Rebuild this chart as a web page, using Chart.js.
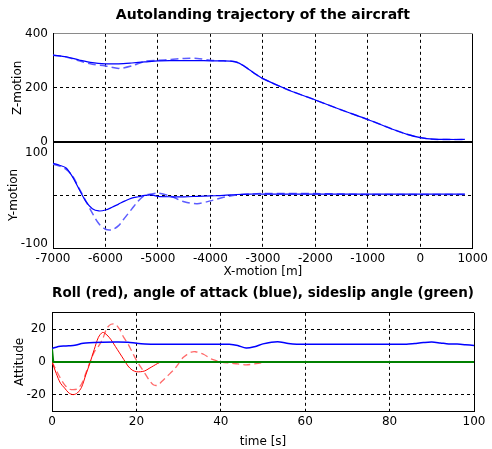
<!DOCTYPE html>
<html>
<head>
<meta charset="utf-8">
<script src="https://cdn.jsdelivr.net/npm/chart.js@4.4.0/dist/chart.umd.min.js"></script>
<style>
  body { margin: 0; background: #fff; }
  canvas { position: absolute; left: 0; }
  #traj { top: 0; }
  #att { top: 280px; }
</style>
</head>
<body>
<canvas id="traj" width="492" height="280"></canvas>
<canvas id="att" width="492" height="169"></canvas>
<script>
// trajectory, top plots
const xTicks = [-7000, -6000, -5000, -4000, -3000, -2000, -1000, 0, 1000];
const zTicks = [0, 200, 400];
const yTicks = [-100, 0, 100];

const xZ = [-7000, -6750, -6500, -6250, -6000, -5750, -5500, -5250, -5000, -4750, -4500, -4250, -4000,
  -3750, -3625, -3500, -3375, -3250, -3125, -3000, -2500, -2000, -1500, -1000, -500, -250, 0, 250, 500, 850];
const zSolid = [321, 315, 303, 293, 289, 289, 292, 296, 300, 301, 301, 301, 300,
  300, 299, 295, 283, 266, 249, 234, 191, 155, 118, 83, 45, 28, 16, 10, 9, 9];
const zDashed = [321, 314, 300, 287, 281, 272, 281, 298, 302, 305, 309, 309, 302,
  300, 299, 295, 283, 266, 249, 234, 191, 155, 118, 83, 45, 28, 16, 10, 9, 9];

const xY = [-7000, -6875, -6750, -6625, -6500, -6375, -6250, -6125, -6000, -5875, -5750, -5625, -5500,
  -5375, -5250, -5125, -5000, -4750, -4500, -4250, -4000, -3750, -3500, -3250, -3000, -2000, -1000, 0, 850];
const ySolid = [70, 66, 60, 40, 13, -13, -29, -34, -32, -26, -19, -12, -6,
  -3, 0, 1, -2, -3, -3, -2, -1, 0, 2, 3, 3, 3, 3, 3, 3];
const yDashed = [68, 64, 57, 42, 15, -12, -39, -62, -74, -75, -66, -48, -30,
  -12, 0, 3, 5, -2, -14, -18, -12, -4, 1, 3, 4, 4, 2, 2, 2];

// attitude, bottom plot
const tTicks = [0, 20, 40, 60, 80, 100];
const attTicks = [-20, 0, 20];

const tBlue = [0, 1, 2, 3, 4, 5, 6, 7, 8, 10, 12, 15, 18, 20, 22, 25, 30, 35, 40, 42, 44, 46, 48, 50,
  52, 54, 56, 58, 70, 80, 84, 86, 88, 90, 92, 94, 96, 98, 100];
const aoa = [8.2, 9, 9.5, 9.7, 9.9, 10, 10.5, 11.2, 11.5, 11.8, 12, 12.1, 12, 11.4, 11, 10.8, 10.8, 10.8, 10.8, 10.8, 10, 8.5, 9.3, 11,
  12, 12.2, 11.2, 10.8, 10.8, 10.8, 10.8, 11.3, 11.8, 12.1, 11.6, 11, 10.9, 10.5, 10];

const tRed = [0, 1, 2, 3, 4, 5, 6, 7, 8, 9, 10, 11, 12, 13, 14, 15, 16, 17, 18, 19, 20, 21, 22, 23, 24, 25, 26,
  30, 40, 50, 60, 70, 80, 90, 100];
const rollSolid = [0, -7, -13, -16, -19, -20, -19, -15.5, -8, -0.6, 7.5, 15, 18, 16.5, 13.5, 9.5, 5.5, 1.5, -2.5, -5, -6, -6, -5.5, -4, -2.5, -1, 0,
  0, 0, 0, 0, 0, 0, 0, 0];

const tRedDash = [0, 1, 2, 3, 4, 5, 6, 7, 8, 9, 10, 11, 12, 13, 14, 15, 16, 17, 18, 19, 20, 21, 22, 23, 24, 25, 26, 27, 28, 29,
  30, 31, 32, 33, 34, 35, 36, 37, 38, 40, 42, 44, 46, 48, 50, 52, 60, 70, 80, 90, 100];
const rollDashed = [0, -5, -10, -14, -16.5, -17, -16.5, -13.5, -7, 0, 6, 9.5, 14, 20.5, 23, 23, 20, 15, 11, 6, 1, -3, -7, -11, -14, -14.3, -12, -9.5, -7, -4.5,
  -1, 2.5, 4.5, 6, 6.2, 5.5, 4.5, 3, 1.5, 0, -0.7, -1.2, -1.8, -1.2, -0.5, 0, 0, 0, 0, 0, 0];

const tGreen = [0, 0.3, 100];
const sideslip = [8, 0, 0];

Chart.defaults.font.family = "'DejaVu Sans', sans-serif";
Chart.defaults.font.size = 12;
Chart.defaults.color = "#000";

const gridDash = [3, 3];
const clear = "rgba(0,0,0,0)";

function pts(xs, ys) {
  return xs.map((x, i) => ({ x: x, y: ys[i] }));
}
function setTicks(list) {
  return axis => { axis.ticks = list.map(v => ({ value: v })); };
}
function tickVal(c) {
  return c.tick ? c.tick.value : null;
}

new Chart(document.getElementById("traj"), {
  type: "line",
  data: {
    datasets: [
      { data: pts(xZ, zSolid), yAxisID: "z", borderColor: "#0000ff", borderWidth: 1.2 },
      { data: pts(xZ, zDashed), yAxisID: "z", borderColor: "#5c5cff", borderWidth: 1.5, borderDash: [8, 4] },
      { data: pts(xY, ySolid), yAxisID: "ym", borderColor: "#0000ff", borderWidth: 1.2 },
      { data: pts(xY, yDashed), yAxisID: "ym", borderColor: "#5c5cff", borderWidth: 1.5, borderDash: [8, 4] }
    ]
  },
  options: {
    responsive: false,
    animation: false,
    layout: { padding: { left: 0, right: 15, top: 0, bottom: 0 } },
    elements: { point: { radius: 0 }, line: { tension: 0.3 } },
    plugins: {
      legend: { display: false },
      tooltip: { enabled: false },
      title: {
        display: true,
        text: "Autolanding trajectory of the aircraft",
        fullSize: false,
        color: "#000",
        font: { size: 14, weight: "bold" },
        padding: { top: 7, bottom: 10 }
      }
    },
    scales: {
      x: {
        type: "linear",
        min: -7000,
        max: 1000,
        afterBuildTicks: setTicks(xTicks),
        afterFit: a => { a.height = 32; },
        ticks: { padding: 4, autoSkip: false, maxRotation: 0, callback: v => String(v) },
        grid: {
          drawTicks: false,
          color: c => tickVal(c) === -7000 ? clear : "#000"
        },
        border: { color: "#000", dash: c => tickVal(c) === 1000 ? [] : gridDash },
        title: { display: true, text: "X-motion [m]", padding: { top: 0, bottom: 1 } }
      },
      ym: {
        type: "linear",
        position: "left",
        stack: "traj",
        stackWeight: 106,
        min: -115,
        max: 117,
        afterBuildTicks: setTicks(yTicks),
        afterFit: a => { a.width = 53; },
        ticks: { padding: 5, labelOffset: 3, callback: v => v === 0 ? "" : String(v) },
        grid: { drawTicks: false, color: c => tickVal(c) === 0 ? "#000" : clear },
        border: { color: "#000", dash: gridDash },
        title: { display: true, text: "Y-motion", padding: { top: 7, bottom: 0 } }
      },
      z: {
        type: "linear",
        position: "left",
        stack: "traj",
        stackWeight: 108,
        min: 0,
        max: 400,
        afterBuildTicks: setTicks(zTicks),
        afterFit: a => { a.width = 53; },
        ticks: { padding: 5, callback: v => String(v) },
        grid: {
          drawTicks: false,
          color: c => tickVal(c) === 400 ? "#8a8a8a" : "#000",
          lineWidth: c => tickVal(c) === 0 ? 2 : 1
        },
        border: { color: "#000", dash: c => tickVal(c) === 200 ? gridDash : [] },
        title: { display: true, text: "Z-motion", padding: { top: 11, bottom: 0 } }
      }
    }
  }
});

new Chart(document.getElementById("att"), {
  type: "line",
  data: {
    datasets: [
      { data: pts(tGreen, sideslip), borderColor: "#008000", borderWidth: 2, order: 0, tension: 0 },
      { data: pts(tBlue, aoa), borderColor: "#0000ff", borderWidth: 1.5, order: 1 },
      { data: pts(tRed, rollSolid), borderColor: "#ff0000", borderWidth: 1, order: 2 },
      { data: pts(tRedDash, rollDashed), borderColor: "#ff6a6a", borderWidth: 1.3, borderDash: [7, 4], order: 3 }
    ]
  },
  options: {
    responsive: false,
    animation: false,
    layout: { padding: { left: 0, right: 18, top: 0, bottom: 0 } },
    elements: { point: { radius: 0 }, line: { tension: 0.3 } },
    plugins: {
      legend: { display: false },
      tooltip: { enabled: false },
      title: {
        display: true,
        text: "Roll (red), angle of attack (blue), sideslip angle (green)",
        fullSize: false,
        color: "#000",
        font: { size: 14, weight: "bold" },
        padding: { top: 5, bottom: 11 }
      }
    },
    scales: {
      x: {
        type: "linear",
        min: 0,
        max: 100,
        afterBuildTicks: setTicks(tTicks),
        afterFit: a => { a.height = 38; },
        ticks: { padding: 4, autoSkip: false, maxRotation: 0, callback: v => String(v) },
        grid: { drawTicks: false, color: c => tickVal(c) === 0 ? clear : "#000" },
        border: { color: "#000", dash: c => tickVal(c) === 100 ? [] : gridDash },
        title: { display: true, text: "time [s]", padding: { top: 0, bottom: 0 } }
      },
      y: {
        type: "linear",
        min: -30,
        max: 30,
        afterBuildTicks: setTicks([-30].concat(attTicks, [30])),
        afterFit: a => { a.width = 52; },
        ticks: { padding: 6, callback: v => attTicks.includes(v) ? String(v) : "" },
        grid: { drawTicks: false, color: c => tickVal(c) === -30 ? clear : "#000" },
        border: { color: "#000", dash: c => Math.abs(tickVal(c)) === 30 ? [] : gridDash },
        title: { display: true, text: "Attitude", padding: { top: 13, bottom: 0 } }
      }
    }
  }
});
</script>
</body>
</html>
